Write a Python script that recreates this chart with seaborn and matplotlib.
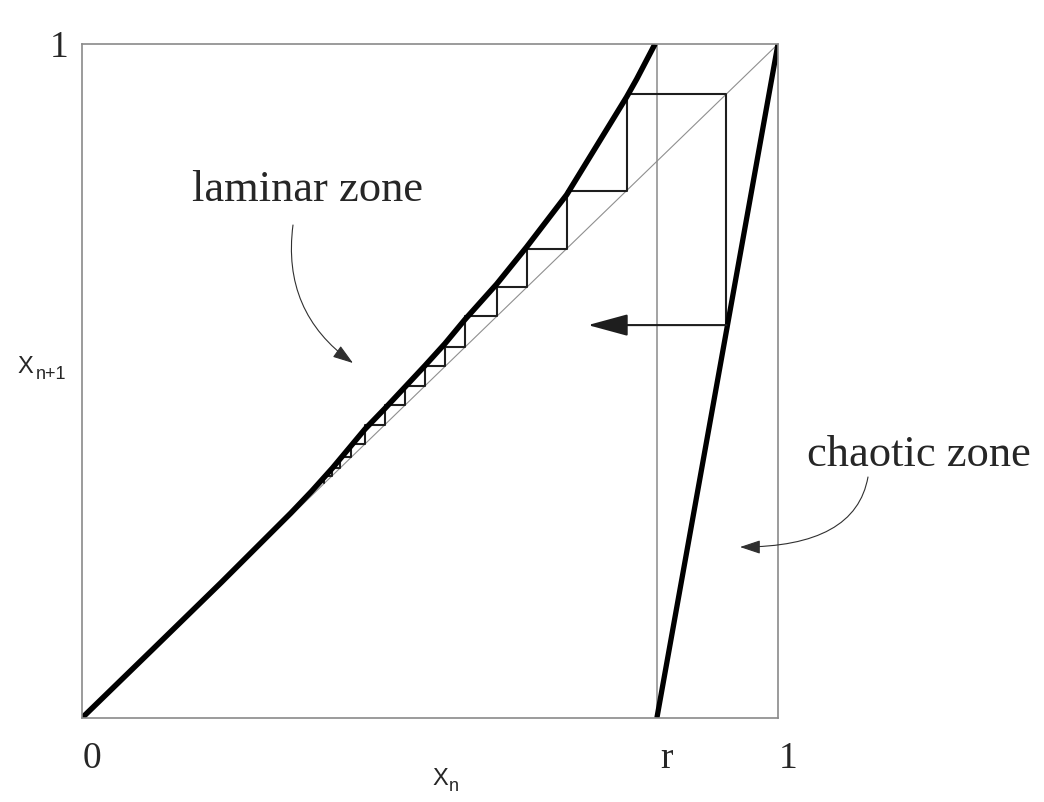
import seaborn as sns
import matplotlib.pyplot as plt
from matplotlib.transforms import ScaledTranslation

# laminar branch of the map
curve_x = [0.0, 0.10, 0.20, 0.25, 0.30, 0.33, 0.360, 0.4066, 0.4353, 0.4641,
           0.4928, 0.5216, 0.5503, 0.5958, 0.6389, 0.6964, 0.7826, 0.797, 0.8233]
curve_y = [0.0, 0.1003, 0.201, 0.2525, 0.304, 0.3365, 0.371, 0.4286, 0.4593,
           0.4911, 0.5228, 0.5556, 0.5913, 0.6438, 0.6989, 0.7764, 0.9216, 0.948, 1.0]

# chaotic branch, from (r, 0) to (1, 1)
r = 0.826
chaotic_x = [r, 1.0]
chaotic_y = [0.0, 1.0]

# iterates of the cobweb staircase
orbit = [0.348, 0.359, 0.371, 0.387, 0.4066, 0.4353, 0.4641, 0.4928, 0.5216,
         0.5503, 0.5958, 0.6389, 0.6964, 0.7826, 0.926]
reinject_y = 0.583
reinject_to = 0.727

tick_pos = [0.0, r, 1.0]
tick_labels = ["0", "r", "1"]

sns.set_theme(style="white")
plt.rcParams["font.family"] = ["Liberation Serif", "DejaVu Serif"]

fig = plt.figure(figsize=(10.44, 8.02), dpi=100)
ax = fig.add_axes([0.0785, 0.1047, 0.6667, 0.8404])

grey = "#8a8a8a"
ax.plot([0, 1], [0, 1], color="#8f8f8f", lw=0.8)
ax.axvline(r, color=grey, lw=1.1)

# cobweb path: diagonal -> curve -> diagonal ...
seg_x, seg_y = [], []
for a, b in zip(orbit[:-1], orbit[1:]):
    seg_x += [a, a, b]
    seg_y += [a, b, b]
seg_x.append(orbit[-1])
seg_y.append(reinject_y)
sns.lineplot(x=seg_x, y=seg_y, sort=False, estimator=None, color="#1e1e1e",
             lw=1.5, ax=ax)

sns.lineplot(x=curve_x, y=curve_y, sort=False, estimator=None, color="black",
             lw=4.0, ax=ax, solid_capstyle="butt")
sns.lineplot(x=chaotic_x, y=chaotic_y, sort=False, estimator=None, color="black",
             lw=3.8, ax=ax, solid_capstyle="butt")

# reinjection arrow
ax.annotate("", xy=(reinject_to, reinject_y), xytext=(orbit[-1], reinject_y),
            arrowprops=dict(arrowstyle="-|>,head_length=1.25,head_width=0.34",
                            mutation_scale=20, color="#1e1e1e", lw=1.5,
                            shrinkA=0, shrinkB=0))

ax.set_xlim(0, 1)
ax.set_ylim(0, 1)
for s in ax.spines.values():
    s.set_color(grey)
    s.set_linewidth(1.2)
    s.set_visible(True)

ax.set_xticks(tick_pos)
ax.set_xticklabels(tick_labels, fontsize=27)
ax.set_yticks([1.0])
ax.set_yticklabels(["1"], fontsize=27)
ax.tick_params(axis="x", length=0, pad=17)
ax.tick_params(axis="y", length=0, pad=10)
shift = ScaledTranslation(10 / 100, 0, fig.dpi_scale_trans)
for lab in ax.get_xticklabels():
    lab.set_transform(lab.get_transform() + shift)
ax.set_xlabel("")
ax.set_ylabel("")

# axis names: X with a hand-set subscript
sans = ["Liberation Sans", "DejaVu Sans"]
ax.text(0.5043, -0.0994, "X", transform=ax.transAxes, fontsize=17,
        family=sans, ha="left", va="baseline")
ax.text(0.5273, -0.1083, "n", transform=ax.transAxes, fontsize=13,
        family=sans, ha="left", va="baseline")
ax.text(-0.092, 0.5119, "X", transform=ax.transAxes, fontsize=17,
        family=sans, ha="left", va="baseline")
ax.text(-0.0661, 0.503, "n+1", transform=ax.transAxes, fontsize=13,
        family=sans, ha="left", va="baseline")

# zone labels with curved pointers
ax.text(0.3247, 0.783, "laminar zone", transform=ax.transAxes, fontsize=32,
        ha="center", va="center")
ax.annotate("", xy=(0.3894, 0.5267), xytext=(0.3032, 0.7315),
            xycoords="axes fraction", textcoords="axes fraction",
            arrowprops=dict(arrowstyle="-|>,head_length=0.9,head_width=0.3",
                            mutation_scale=14, color="#303030", lw=0.8,
                            shrinkA=0, shrinkB=0,
                            connectionstyle="arc3,rad=0.3"))

ax.text(1.2026, 0.39, "chaotic zone", transform=ax.transAxes, fontsize=32,
        ha="center", va="center", clip_on=False)
ax.annotate("", xy=(0.9454, 0.2537), xytext=(1.1293, 0.3576),
            xycoords="axes fraction", textcoords="axes fraction",
            arrowprops=dict(arrowstyle="-|>,head_length=0.9,head_width=0.3",
                            mutation_scale=14, color="#303030", lw=0.8,
                            shrinkA=0, shrinkB=0,
                            connectionstyle="angle3,angleA=80,angleB=0"))

fig.savefig("out.png", dpi=100)
